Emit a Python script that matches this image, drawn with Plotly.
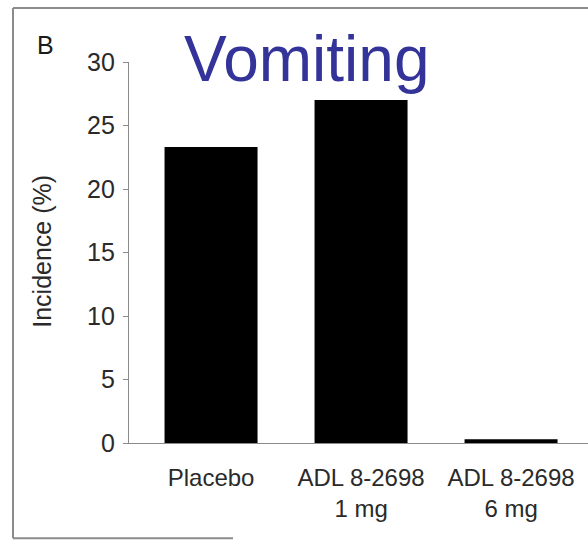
import plotly.graph_objects as go

categories = ["Placebo", "ADL 8-2698<br>1 mg", "ADL 8-2698<br>6 mg"]
incidence = [23.3, 27.0, 0.3]
y_ticks = [0, 5, 10, 15, 20, 25, 30]
title_text = "Vomiting"
panel_label = "B"
y_title = "Incidence (%)"

W, H = 588, 541
L, R_ = 129, 588
T, B = 62, 443.5

def px_x(p):
    return (p - L) / (R_ - L)

def px_y(p):
    return (B - p) / (B - T)

FONT = "Arial, Liberation Sans, Helvetica, sans-serif"

fig = go.Figure()
fig.add_trace(go.Bar(
    x=list(range(len(categories))),
    y=incidence,
    width=0.62,
    marker=dict(color="black", line=dict(width=0)),
    hoverinfo="skip",
))

fig.update_layout(
    width=W, height=H,
    margin=dict(l=L, r=W - R_, t=T, b=H - B),
    paper_bgcolor="white", plot_bgcolor="white",
    showlegend=False,
    font=dict(family=FONT, size=24, color="#2a2a2a"),
    xaxis=dict(
        range=[-0.547, 2.513],
        tickmode="array",
        tickvals=list(range(len(categories))),
        ticktext=categories,
        ticks="", showgrid=False, zeroline=False,
        showline=True, linecolor="#8a8a8a", linewidth=1.2,
        tickfont=dict(size=24, color="#2a2a2a"),
        ticklabelstandoff=13,
    ),
    yaxis=dict(
        range=[0, 30],
        tickmode="array", tickvals=y_ticks,
        ticks="outside", ticklen=5, tickcolor="#8a8a8a", tickwidth=1,
        showgrid=False, zeroline=False,
        showline=True, linecolor="#8a8a8a", linewidth=1.2,
        tickfont=dict(size=25, color="#2a2a2a"),
        ticklabelstandoff=3,
    ),
)

# frame around the panel
frame_color = "#8c8c8c"
fig.add_shape(type="line", xref="paper", yref="paper",
              x0=px_x(13), x1=px_x(588), y0=px_y(8), y1=px_y(8),
              line=dict(color=frame_color, width=2))
fig.add_shape(type="line", xref="paper", yref="paper",
              x0=px_x(13), x1=px_x(13), y0=px_y(8), y1=px_y(539),
              line=dict(color=frame_color, width=2))
fig.add_shape(type="line", xref="paper", yref="paper",
              x0=px_x(13), x1=px_x(233), y0=px_y(539), y1=px_y(539),
              line=dict(color=frame_color, width=2))

# title
fig.add_annotation(text=title_text, xref="paper", yref="paper",
                   x=px_x(306), y=px_y(59), xanchor="center", yanchor="middle",
                   showarrow=False,
                   font=dict(family=FONT, size=64, color="#333399"))
# panel label
fig.add_annotation(text=panel_label, xref="paper", yref="paper",
                   x=px_x(45), y=px_y(45), xanchor="center", yanchor="middle",
                   showarrow=False,
                   font=dict(family=FONT, size=25, color="#1a1a1a"))
# y-axis title
fig.add_annotation(text=y_title, xref="paper", yref="paper",
                   x=px_x(42), y=px_y(252), xanchor="center", yanchor="middle",
                   textangle=-90, showarrow=False,
                   font=dict(family=FONT, size=25, color="#2a2a2a"))

fig.write_html("out.html")
